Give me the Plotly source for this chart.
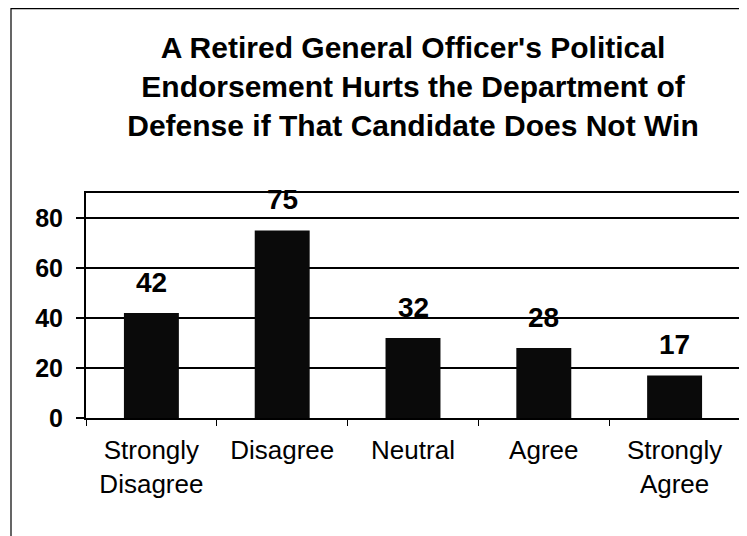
import plotly.graph_objects as go

categories = ["Strongly<br>Disagree", "Disagree", "Neutral", "Agree", "Strongly<br>Agree"]
values = [42, 75, 32, 28, 17]
y_ticks = [0, 20, 40, 60, 80]
title_text = ("A Retired General Officer's Political<br>"
              "Endorsement Hurts the Department of<br>"
              "Defense if That Candidate Does Not Win")

FONT = "Liberation Sans, Arial, sans-serif"

# the page body has an 8px default margin, so the figure is laid out 8px smaller
OFF = 8
FW, FH = 747 - OFF, 536 - OFF

fig = go.Figure()
fig.add_trace(go.Bar(
    x=categories, y=values,
    marker=dict(color="#0a0a0a", line=dict(width=0)),
    width=0.42,
    hoverinfo="skip",
))

for c, v in zip(categories, values):
    fig.add_annotation(x=c, y=v, text="<b>%d</b>" % v, showarrow=False,
                       yshift=31, font=dict(family=FONT, size=28, color="black"))

# plot area in figure pixels
L, R, T, B = 86 - OFF, 740 - OFF, 193 - OFF, 418 - OFF
W, H = R - L, B - T
fig.add_shape(type="rect", xref="paper", yref="paper",
              x0=(11 - OFF - L) / W, x1=(745.5 - OFF - L) / W,
              y0=(B - 545) / H, y1=(B - 0.6) / H,
              line=dict(color="black", width=1.2), layer="below")

fig.update_layout(
    width=FW, height=FH,
    margin=dict(l=L, r=FW - R, t=T, b=FH - B, autoexpand=False),
    paper_bgcolor="white", plot_bgcolor="white",
    showlegend=False,
    title=dict(text="<b>" + title_text + "</b>", x=0.5, xref="paper", xanchor="center",
               y=1 - 50 / FH, yanchor="top",
               font=dict(family=FONT, size=30, color="black")),
    font=dict(family=FONT, color="black"),
    bargap=0.58,
)
fig.update_xaxes(
    automargin=False,
    showline=True, linecolor="black", linewidth=2, mirror=True,
    ticks="outside", tickson="boundaries", ticklen=6, tickcolor="black", tickwidth=1,
    tickfont=dict(family=FONT, size=26, color="black"),
    ticklabelstandoff=8,
    showgrid=False,
)
fig.update_yaxes(
    automargin=False,
    range=[0, 90], tickvals=y_ticks, ticktext=["<b>%d</b>" % t for t in y_ticks],
    showline=True, linecolor="black", linewidth=2, mirror=True,
    ticks="outside", ticklen=8, tickcolor="black", tickwidth=1.5,
    tickfont=dict(family=FONT, size=25, color="black"),
    ticklabelstandoff=8,
    showgrid=True, gridcolor="black", gridwidth=1.5, zeroline=False,
)

fig.write_html("out.html")
